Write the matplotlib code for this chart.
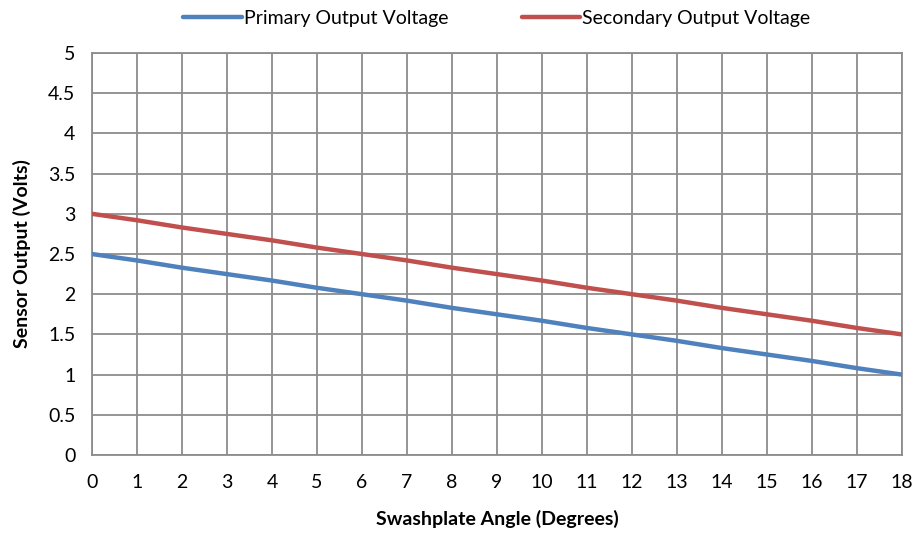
import matplotlib
matplotlib.use("Agg")
import matplotlib.pyplot as plt

plt.rcParams['font.family'] = ['Lato', 'DejaVu Sans']

# Data
angle = [0, 1, 2, 3, 4, 5, 6, 7, 8, 9, 10, 11, 12, 13, 14, 15, 16, 17, 18]
primary = [2.5, 2.42, 2.33, 2.25, 2.17, 2.08, 2.0, 1.92, 1.83, 1.75,
           1.67, 1.58, 1.5, 1.42, 1.33, 1.25, 1.17, 1.08, 1.0]
secondary = [3.0, 2.92, 2.83, 2.75, 2.67, 2.58, 2.5, 2.42, 2.33, 2.25,
             2.17, 2.08, 2.0, 1.92, 1.83, 1.75, 1.67, 1.58, 1.5]
yticks = [0, 0.5, 1, 1.5, 2, 2.5, 3, 3.5, 4, 4.5, 5]
ytick_labels = ['0', '0.5', '1', '1.5', '2', '2.5', '3', '3.5', '4', '4.5', '5']

fig = plt.figure(figsize=(9.17, 5.34), dpi=100)
ax = fig.add_axes([0.1003, 0.1479, 0.8834, 0.7528])

ax.plot(angle, primary, color='#4F81BD', lw=3.2, solid_capstyle='round',
        label='Primary Output Voltage', zorder=3)
ax.plot(angle, secondary, color='#C0504D', lw=3.2, solid_capstyle='round',
        label='Secondary Output Voltage', zorder=3)

ax.set_xlim(0, 18)
ax.set_ylim(0, 5)
ax.set_xticks(angle)
ax.set_yticks(yticks)
ax.set_yticklabels(ytick_labels)
ax.grid(True, color='#8C8C8C', lw=1.3)
ax.set_axisbelow(True)
for s in ax.spines.values():
    s.set_color('#8C8C8C')
    s.set_linewidth(1.3)
ax.tick_params(length=0, labelsize=14, colors='black')
ax.tick_params(axis='x', pad=14)
ax.tick_params(axis='y', pad=12)

ax.set_xlabel('Swashplate Angle (Degrees)', fontsize=14, fontweight='bold', labelpad=13)
ax.set_ylabel('Sensor Output (Volts)', fontsize=14, fontweight='bold', labelpad=12)

ax.legend(loc='lower center', bbox_to_anchor=(0.5, 1.04), ncol=2, frameon=False,
          fontsize=14, handlelength=3, handletextpad=0.1, columnspacing=3.8,
          borderpad=0)

fig.savefig('out.png', dpi=100)
